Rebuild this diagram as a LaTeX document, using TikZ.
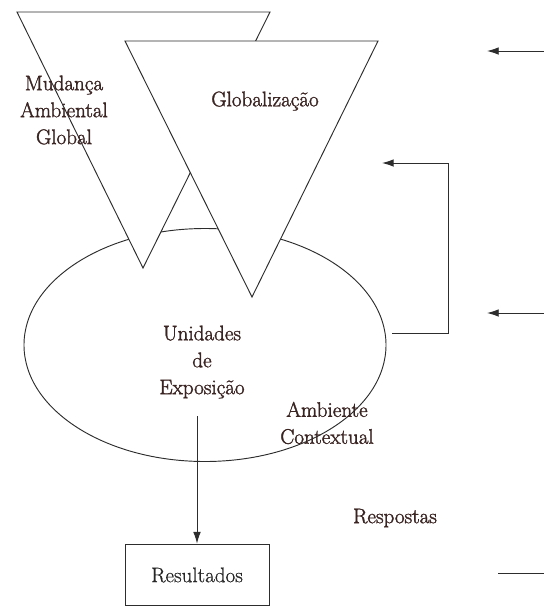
\documentclass[tikz,border=0pt]{standalone}
\usepackage{fontspec}
\usepackage{tikz}
\usetikzlibrary{arrows.meta,shapes.geometric}

\newfontfamily\lblfont{Latin Modern Roman}[FakeBold=1.6]
\newfontfamily\resfont{Latin Modern Roman}[FakeBold=0.6]
\definecolor{txtbrown}{RGB}{58,36,34}
\definecolor{linegray}{RGB}{45,45,45}

\begin{document}
\begin{tikzpicture}[
  x=0.03cm, y=-0.03cm,
  lbl/.style={text=txtbrown,align=center,inner sep=0pt,font=\lblfont\fontsize{18}{23}\selectfont},
  tri/.style={draw=linegray,fill=white,line width=0.8pt},
  plain/.style={draw=linegray,line width=0.8pt},
  arr/.style={plain,-{Latex[length=10pt,width=6.5pt]}},
  resbox/.style={rectangle,draw=linegray,line width=0.8pt,minimum width=4.32cm,minimum height=1.85cm,
    text=black!85,font=\resfont\fontsize{18}{23}\selectfont}
]
\useasboundingbox (0,0) rectangle (544,607);

% ambiente contextual
\node[ellipse,plain,minimum width=10.86cm,minimum height=6.99cm,inner sep=0pt] (env) at (205,345) {};

% triangulos
\draw[tri] (17,12) -- (270,12) -- (143,268) -- cycle;
\draw[tri] (125,41) -- (378,41) -- (252,297) -- cycle;

\node[lbl] (mud) at (64,110) {Mudança\\Ambiental\\Global};
\node[lbl] (glob) at (265,101) {Globalização};
\node[lbl] (unid) at (202,362) {Unidades\\de\\Exposição};
\node[lbl] (amb) at (327,423) {Ambiente\\Contextual};
\node[lbl] (resp) at (395,518) {Respostas};
\node[resbox] (res) at (197,575) {Resultados};

% unidades -> resultados
\coordinate (down) at (197,416);
\draw[arr] (down) -- (res.north);

% retorno
\coordinate (fbs) at (392,333);
\coordinate (fbe) at (382,163);
\draw[arr] (fbs) -- ++(56,0) |- (fbe);

% setas da direita
\foreach \y/\n in {51/a,313/b} {
  \coordinate (out\n) at (544,\y);
  \coordinate (tip\n) at (487,\y);
  \draw[arr] (out\n) -- (tip\n);
}
\coordinate (bl) at (498,573);
\coordinate (br) at (544,573);
\draw[plain] (bl) -- (br);

\end{tikzpicture}
\end{document}
